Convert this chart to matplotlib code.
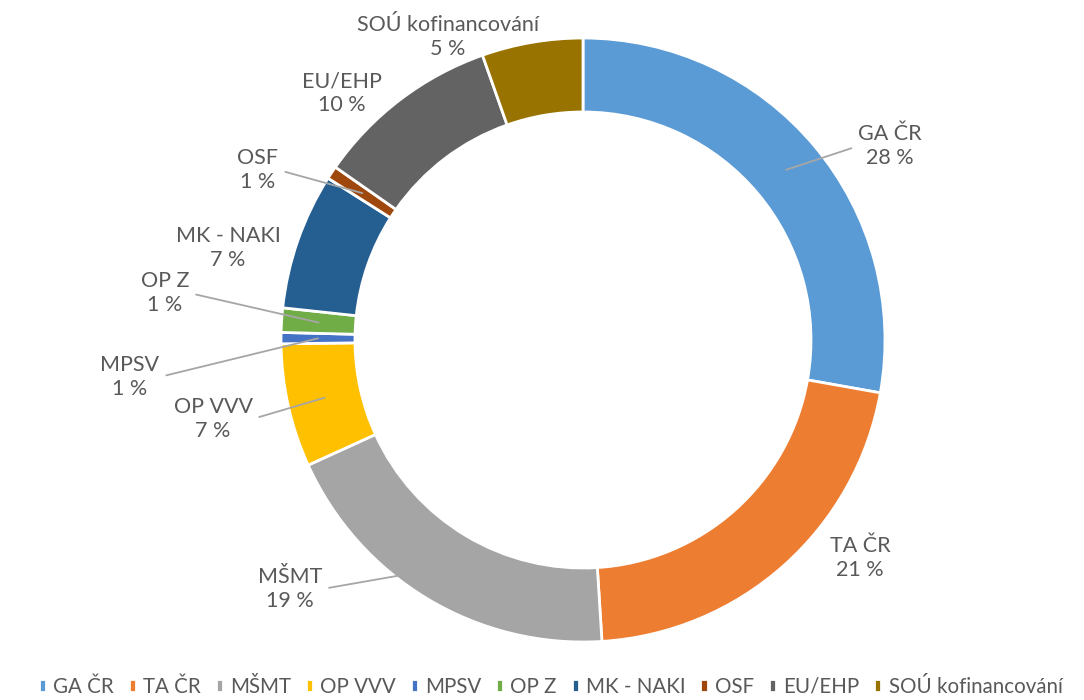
import numpy as np
import matplotlib.pyplot as plt

plt.rcParams['font.family'] = ['Lato', 'DejaVu Sans']

# data
categories = ['GA ČR', 'TA ČR', 'MŠMT', 'OP VVV', 'MPSV', 'OP Z',
              'MK - NAKI', 'OSF', 'EU/EHP', 'SOÚ kofinancování']
shares = [27.8, 21.2, 19.2, 6.6, 0.6, 1.3, 7.3, 0.7, 9.9, 5.4]
colors = ['#5B9BD5', '#ED7D31', '#A5A5A5', '#FFC000', '#4472C4',
          '#70AD47', '#255E91', '#9E480E', '#636363', '#997300']

# label placement (pixel coords, y from top) and whether a leader line is drawn
label_pos = [(890, 146), (860, 558), (290, 589), (213, 419), (130, 377),
             (165, 293), (228, 248), (258, 170), (342, 93), (448, 37)]
leader = [True, False, True, True, True, True, False, True, False, False]

W, H = 1084, 700
cx, cy, R = 583, H - 340, 302
ring = 0.245
txt_col = '#595959'

fig = plt.figure(figsize=(W / 100, H / 100), dpi=100)
ax = fig.add_axes([0, 0, 1, 1])

wedges, _ = ax.pie(shares, colors=colors, startangle=90, counterclock=False,
                   center=(cx, cy), radius=R, frame=True,
                   wedgeprops=dict(width=R * ring, edgecolor='white', linewidth=2))
ax.set_xlim(0, W)
ax.set_ylim(0, H)
ax.set_aspect('equal')
ax.axis('off')

total = sum(shares)
cum = np.cumsum([0] + shares)
r_mid = R * (1 - ring / 2)
for i, name in enumerate(categories):
    frac = (cum[i] + shares[i] / 2) / total
    th = np.deg2rad(90 - 360 * frac)
    px, py = cx + r_mid * np.cos(th), cy + r_mid * np.sin(th)
    tx, ty = label_pos[i][0], H - label_pos[i][1]
    lab = f'{name}\n{round(shares[i] / total * 100):.0f} %'
    if leader[i]:
        side = 1 if tx < px else 0
        ax.annotate(lab, xy=(px, py), xytext=(tx, ty), ha='center', va='center',
                    fontsize=15.5, color=txt_col, linespacing=1.25,
                    arrowprops=dict(arrowstyle='-', color='#A6A6A6', lw=1.3,
                                    shrinkA=3, shrinkB=0, relpos=(side, 0.5)))
    else:
        ax.text(tx, ty, lab, ha='center', va='center', fontsize=15.5,
                color=txt_col, linespacing=1.25)

leg = ax.legend(wedges, categories, loc='lower center', bbox_to_anchor=(0.508, -0.022),
                ncol=10, frameon=False, fontsize=14.8, handlelength=0.35,
                handleheight=0.6, handletextpad=0.35, columnspacing=0.72,
                labelcolor=txt_col, bbox_transform=fig.transFigure)

fig.savefig('out.png', dpi=100, facecolor='white')
